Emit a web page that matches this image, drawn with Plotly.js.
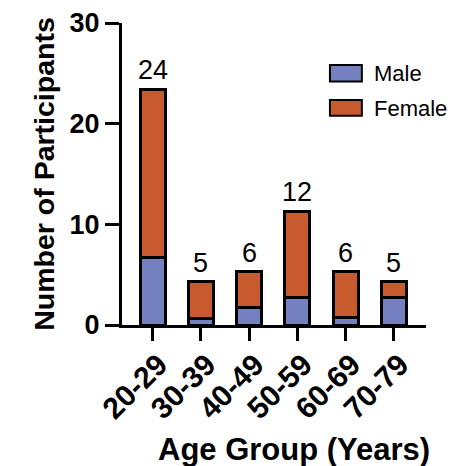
<!DOCTYPE html>
<html>
<head>
<meta charset="utf-8">
<script src="https://cdn.plot.ly/plotly-3.0.1.min.js"></script>
<style>
html,body{margin:0;padding:0;background:#fff;}
#chart{width:464px;height:466px;}
</style>
</head>
<body>
<div id="chart"></div>
<script>
// Data
const ageGroups = ["20-29", "30-39", "40-49", "50-59", "60-69", "70-79"];
const maleValues = [6.7, 0.6, 1.7, 2.7, 0.7, 2.7];
const femaleValues = [16.7, 3.7, 3.6, 8.6, 4.6, 1.6];
const totalLabels = ["24", "5", "6", "12", "6", "5"];
const yTicks = [0, 10, 20, 30];

const MALE_COLOR = "#7580C0";
const FEMALE_COLOR = "#C75B2E";
const FONT = "Liberation Sans, Arial, sans-serif";

const traces = [
  {
    type: "bar", name: "Male", x: ageGroups, y: maleValues,
    width: 0.52,
    marker: {color: MALE_COLOR, line: {color: "#000", width: 3}},
    hoverinfo: "x+y+name"
  },
  {
    type: "bar", name: "Female", x: ageGroups, y: femaleValues,
    width: 0.52,
    marker: {color: FEMALE_COLOR, line: {color: "#000", width: 3}},
    hoverinfo: "x+y+name"
  }
];

const annotations = ageGroups.map((g, i) => ({
  x: g, y: maleValues[i] + femaleValues[i], xref: "x", yref: "y",
  text: totalLabels[i], showarrow: false, yanchor: "bottom", yshift: 2,
  font: {family: FONT, size: 27, color: "#000"}
}));

// legend entries (text)
annotations.push({xref: "paper", yref: "paper", x: 0.822, y: 0.834, xanchor: "left", yanchor: "middle",
  text: "Male", showarrow: false, font: {family: FONT, size: 22, color: "#000"}});
annotations.push({xref: "paper", yref: "paper", x: 0.822, y: 0.7185, xanchor: "left", yanchor: "middle",
  text: "Female", showarrow: false, font: {family: FONT, size: 22, color: "#000"}});
// x axis title
annotations.push({xref: "paper", yref: "paper", x: 0.566, y: -0.412, xanchor: "center", yanchor: "middle",
  text: "Age Group (Years)", showarrow: false, font: {family: FONT, size: 31, color: "#000", weight: "bold"}});

const shapes = [
  {type: "rect", xref: "paper", yref: "paper", x0: 0.684, x1: 0.789, y0: 0.806, y1: 0.861,
   fillcolor: MALE_COLOR, line: {color: "#000", width: 2}},
  {type: "rect", xref: "paper", yref: "paper", x0: 0.684, x1: 0.789, y0: 0.693, y1: 0.745,
   fillcolor: FEMALE_COLOR, line: {color: "#000", width: 2}}
];

const layout = {
  width: 464, height: 466,
  margin: {l: 122, r: 38, t: 23, b: 141, pad: 0},
  barmode: "stack",
  showlegend: false,
  paper_bgcolor: "#fff", plot_bgcolor: "#fff",
  font: {family: FONT, color: "#000"},
  xaxis: {
    type: "category", range: [-0.635, 5.665],
    showline: true, linecolor: "#000", linewidth: 3,
    ticks: "outside", ticklen: 13, tickwidth: 3, tickcolor: "#000",
    tickangle: -45, ticklabelshift: 6, ticklabelstandoff: -6,
    tickfont: {family: FONT, size: 30, color: "#000", weight: "bold"},
    showgrid: false, zeroline: false, automargin: false
  },
  yaxis: {
    range: [0, 30], tickvals: yTicks, ticktext: yTicks.map(String),
    showline: true, linecolor: "#000", linewidth: 3,
    ticks: "outside", ticklen: 14, tickwidth: 3, tickcolor: "#000",
    tickfont: {family: FONT, size: 27, color: "#000", weight: "bold"},
    showgrid: false, zeroline: false, automargin: false,
    title: {text: "Number of Participants", standoff: 7,
      font: {family: FONT, size: 28.5, color: "#000", weight: "bold"}}
  },
  annotations: annotations,
  shapes: shapes
};

Plotly.newPlot("chart", traces, layout, {displayModeBar: false, staticPlot: true});
</script>
</body>
</html>
